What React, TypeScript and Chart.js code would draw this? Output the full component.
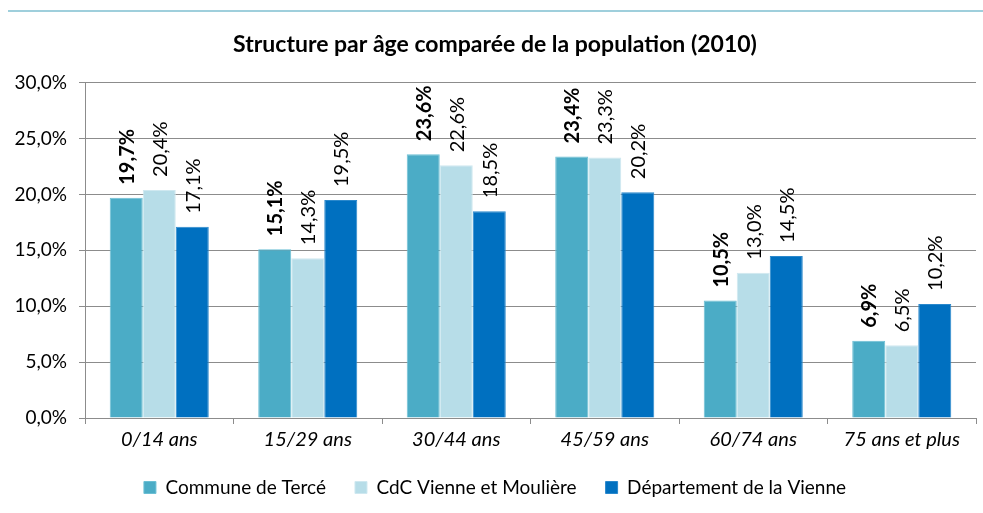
import React, { useEffect, useRef } from "react";
import { Chart, registerables } from "chart.js";

Chart.register(...registerables);

const categories = ["0/14 ans", "15/29 ans", "30/44 ans", "45/59 ans", "60/74 ans", "75 ans et plus"];
const communeTerce = [19.7, 15.1, 23.6, 23.4, 10.5, 6.9];
const cdcVienne = [20.4, 14.3, 22.6, 23.3, 13.0, 6.5];
const departement = [17.1, 19.5, 18.5, 20.2, 14.5, 10.2];
const seriesNames = ["Commune de Tercé", "CdC Vienne et Moulière", "Département de la Vienne"];
const yTicks = [0, 5, 10, 15, 20, 25, 30];
const titleText = "Structure par âge comparée de la population (2010)";

const FONT = "Lato, 'Open Sans', sans-serif";
const fmt = (v: number) => v.toFixed(1).replace(".", ",") + "%";

const labelPlugin = {
  id: "barLabels",
  afterDatasetsDraw(chart: any) {
    const ctx = chart.ctx;
    chart.data.datasets.forEach((ds: any, di: number) => {
      const meta = chart.getDatasetMeta(di);
      meta.data.forEach((bar: any, i: number) => {
        const v = ds.data[i];
        ctx.save();
        ctx.translate(bar.x, bar.y - 13);
        ctx.rotate(-Math.PI / 2);
        ctx.font = (di === 0 ? "bold " : "") + "20px " + FONT;
        ctx.fillStyle = "#000000";
        ctx.textAlign = "left";
        ctx.textBaseline = "middle";
        ctx.fillText(fmt(v), 0, 1);
        ctx.restore();
      });
    });
  },
};

export default function App() {
  const ref = useRef<HTMLCanvasElement>(null);
  useEffect(() => {
    if (!ref.current) return;
    const gray = "#8c8c8c";
    const chart = new Chart(ref.current, {
      type: "bar",
      data: {
        labels: categories,
        datasets: [
          { label: seriesNames[0], data: communeTerce, backgroundColor: "#4BACC6", borderColor: "#6cbfd4", borderWidth: 1 },
          { label: seriesNames[1], data: cdcVienne, backgroundColor: "#B7DDE8", borderColor: "#cfe8f0", borderWidth: 1 },
          { label: seriesNames[2], data: departement, backgroundColor: "#0070C0", borderColor: "#2a88cc", borderWidth: 1 },
        ],
      },
      options: {
        responsive: false,
        animation: false,
        layout: { padding: { left: 14, right: 7, top: 0, bottom: 6 } },
        datasets: { bar: { categoryPercentage: 0.667, barPercentage: 1.0 } },
        plugins: {
          title: {
            display: true,
            text: titleText,
            color: "#000000",
            font: { family: FONT, size: 23, weight: "bold" },
            padding: { top: 31, bottom: 24 },
          },
          legend: {
            position: "bottom",
            labels: {
              color: "#000000",
              font: { family: FONT, size: 19 },
              boxWidth: 12,
              boxHeight: 12,
              padding: 29,
            },
          },
          tooltip: { enabled: false },
        },
        scales: {
          x: {
            afterFit: (scale: any) => {
              scale.height = 31;
            },
            grid: { offset: true, drawOnChartArea: false, drawTicks: true, tickLength: 6, color: gray },
            border: { display: true, color: gray },
            ticks: { color: "#000000", font: { family: FONT, size: 20, style: "italic" }, padding: 4 },
          },
          y: {
            min: 0,
            max: 30,
            afterBuildTicks: (scale: any) => {
              scale.ticks = yTicks.map((v) => ({ value: v }));
            },
            afterFit: (scale: any) => {
              scale.width = 71;
            },
            grid: { color: gray, tickLength: 6 },
            border: { display: true, color: gray },
            ticks: {
              color: "#000000",
              font: { family: FONT, size: 19 },
              padding: 12,
              callback: (v: any) => fmt(Number(v)),
            },
          },
        },
      },
      plugins: [labelPlugin],
    });
    return () => chart.destroy();
  }, []);
  return (
    <div style={{ position: "fixed", left: 0, top: 0, width: 983, height: 513, background: "#fff" }}>
      <div style={{ position: "absolute", left: 8, top: 10, width: 975, height: 2, background: "#9fcfdc" }} />
      <canvas ref={ref} width={983} height={513} style={{ position: "absolute", left: 0, top: 0 }} />
    </div>
  );
}
